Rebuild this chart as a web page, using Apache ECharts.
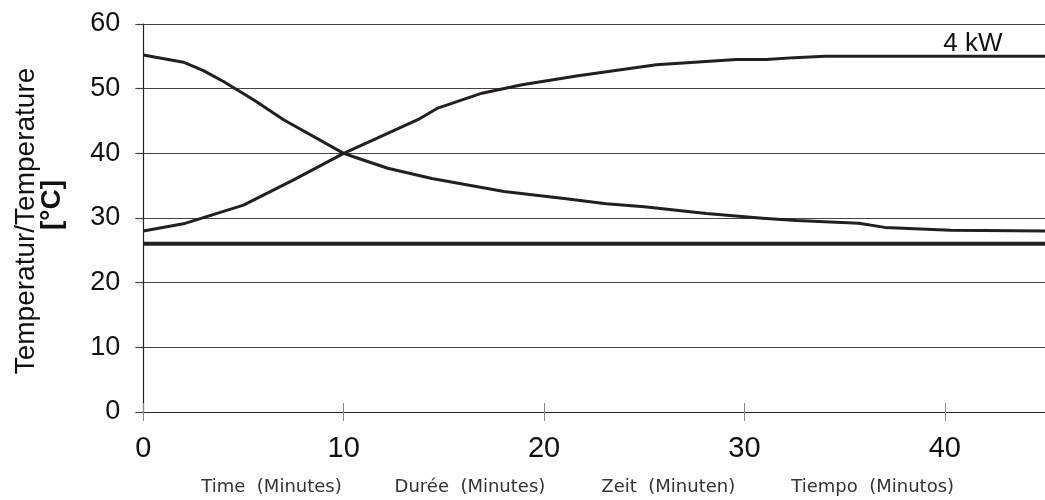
<!DOCTYPE html>
<html>
<head>
<meta charset="utf-8">
<script src="https://cdn.jsdelivr.net/npm/echarts@6/dist/echarts.min.js"></script>
<style>html,body{margin:0;padding:0;background:#fff}#c{width:1045px;height:500px}</style>
</head>
<body>
<div id="c"></div>
<script>
// Data
const heatTimes = [0, 2, 5, 7.5, 10, 13.7, 14.7, 16.9, 18.9, 21.7, 25.6, 29.6, 31.1, 32.5, 34, 45];
const heatTemps = [28, 29.1, 32, 35.9, 40, 45.2, 47, 49.3, 50.6, 52, 53.7, 54.5, 54.5, 54.8, 55, 55];
const coolTimes = [0, 2, 3, 4, 5.5, 7, 10, 10.75, 12.2, 14.4, 18, 21, 23.1, 25, 28.1, 30.9, 32.6, 35.7, 37, 40.3, 45];
const coolTemps = [55.2, 54.1, 52.8, 51.1, 48.3, 45.2, 40, 39.2, 37.7, 36.1, 34.1, 33.0, 32.2, 31.75, 30.7, 29.95, 29.6, 29.2, 28.55, 28.1, 28.0];
const baseTimes = [0, 45];
const baseTemps = [26, 26];
const xTicks = [0, 10, 20, 30, 40];
const yTicks = [0, 10, 20, 30, 40, 50, 60];
const subLabels = ['Time  (Minutes)', 'Durée  (Minutes)', 'Zeit  (Minuten)', 'Tiempo  (Minutos)'];
const subLabelAt = [6.4, 16.3, 26.2, 36.4];
const yTitle = 'Temperatur/Temperature';
const yUnit = '[°C]';
const powerLabel = '4 kW';

const pairs = (t, v) => t.map((x, i) => [x, v[i]]);
const ink = '#231f20';
const chart = echarts.init(document.getElementById('c'));
chart.setOption({
  animation: false,
  backgroundColor: '#fff',
  grid: {left: 143.3, top: 24, bottom: 88, right: -5.5},
  xAxis: [
    {
      type: 'value', min: 0, max: 45, interval: 10,
      axisLine: {show: true, lineStyle: {color: '#222', width: 1.2}},
      axisTick: {show: true, length: 9, lineStyle: {color: '#888', width: 1}},
      axisLabel: {margin: 22, fontSize: 29, color: '#111', fontFamily: 'Liberation Sans',
        showMaxLabel: false, formatter: v => xTicks.includes(v) ? String(v) : ''},
      splitLine: {show: false}
    },
    {
      type: 'value', min: 0, max: 45, interval: 10, position: 'bottom',
      axisLine: {show: false},
      axisTick: {show: true, inside: true, length: 9, lineStyle: {color: '#888', width: 1}},
      axisLabel: {show: false},
      splitLine: {show: false}
    }
  ],
  yAxis: {
    type: 'value', min: 0, max: 60, interval: 10,
    axisLine: {show: true, lineStyle: {color: '#222', width: 1.2}},
    axisTick: {show: true, length: 8, lineStyle: {color: '#444', width: 1.2}},
    axisLabel: {margin: 23, fontSize: 27, color: '#111', fontFamily: 'Liberation Sans',
      formatter: v => yTicks.includes(v) ? String(v) : ''},
    splitLine: {show: true, lineStyle: {color: '#444', width: 1.2}}
  },
  series: [
    {type: 'line', data: pairs(baseTimes, baseTemps), symbol: 'none', lineStyle: {color: ink, width: 4}, z: 3},
    {type: 'line', data: pairs(heatTimes, heatTemps), symbol: 'none', lineStyle: {color: ink, width: 3, join: 'round'}, z: 4,
      markPoint: {symbol: 'circle', symbolSize: 0, silent: true,
        data: [{coord: [41.4, 57.0], value: 0}],
        label: {show: true, position: 'inside', formatter: powerLabel, fontSize: 26, color: '#111', fontFamily: 'Liberation Sans'}}},
    {type: 'line', data: pairs(coolTimes, coolTemps), symbol: 'none', lineStyle: {color: ink, width: 3, join: 'round'}, z: 4}
  ]
});
// Axis titles plus sub-labels under the x axis (positioned through the x scale)
const graphics = [
  {type: 'text', x: 26, y: 221, rotation: Math.PI / 2,
    style: {text: yTitle, fontSize: 28, fontFamily: 'Liberation Sans', fill: '#111', align: 'center', verticalAlign: 'middle'}},
  {type: 'text', x: 52, y: 205, rotation: Math.PI / 2,
    style: {text: yUnit, fontSize: 28, fontWeight: 'bold', fontFamily: 'Liberation Sans', fill: '#111', align: 'center', verticalAlign: 'middle'}}
].concat(subLabels.map((t, i) => ({
  type: 'text',
  x: chart.convertToPixel({xAxisIndex: 0}, subLabelAt[i]),
  y: 487,
  style: {text: t, fontSize: 18, fontFamily: 'DejaVu Sans', fill: '#333', align: 'center', verticalAlign: 'middle'}
})));
chart.setOption({graphic: {elements: graphics}});
</script>
</body>
</html>
